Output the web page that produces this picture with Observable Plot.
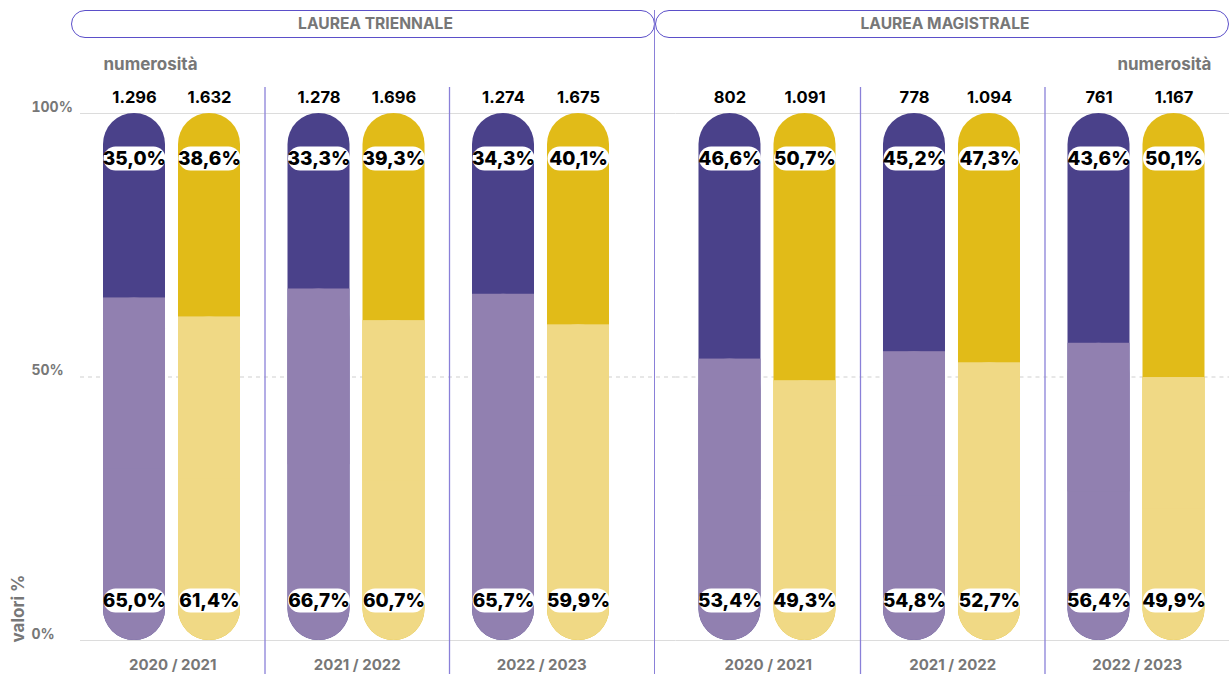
<!DOCTYPE html>
<html>
<head>
<meta charset="utf-8">
<script src="https://cdn.jsdelivr.net/npm/d3@7"></script>
<script src="https://cdn.jsdelivr.net/npm/@observablehq/plot@0.6"></script>
<style>
  body { margin: 0; background: #fff; font-family: Inter, "Noto Sans", sans-serif; }
  #wrap { position: relative; width: 1229px; height: 674px; overflow: hidden; }
  .pill { position: absolute; top: 10px; height: 28px; box-sizing: border-box;
          border: 1.5px solid #5b4fc9; border-radius: 14px; color: #777;
          font-weight: 700; font-size: 15.6px; line-height: 25px; text-align: center; }
  #mid { position: absolute; left: 654px; top: 10px; width: 1.3px; height: 664px; background: #8a80d8; }
  #chart { position: absolute; left: 0; top: 44px; }
</style>
</head>
<body>
<div id="wrap">
  <div class="pill" id="p1" style="left:71px;width:584px;padding-left:25px;"></div>
  <div class="pill" id="p2" style="left:655px;width:574px;padding-left:6px;"></div>
  <div id="chart"></div>
  <div id="mid"></div>
</div>
<script>
// ---- data ----
const classes = ["LAUREA TRIENNALE", "LAUREA MAGISTRALE"];
const years = ["2020 / 2021", "2021 / 2022", "2022 / 2023"];
const seriesNames = ["Gruppo A", "Gruppo B"];
const yTicks = [0, 50, 100];

// lower segment share (%) per year
const lowerA_T = [65.0, 66.7, 65.7];
const lowerB_T = [61.4, 60.7, 59.9];
const lowerA_M = [53.4, 54.8, 56.4];
const lowerB_M = [49.3, 52.7, 49.9];
// upper segment share (%) per year
const upperA_T = [35.0, 33.3, 34.3];
const upperB_T = [38.6, 39.3, 40.1];
const upperA_M = [46.6, 45.2, 43.6];
const upperB_M = [50.7, 47.3, 50.1];
// numerosità per year
const countA_T = [1296, 1278, 1274];
const countB_T = [1632, 1696, 1675];
const countA_M = [802, 778, 761];
const countB_M = [1091, 1094, 1167];

document.getElementById("p1").textContent = classes[0];
document.getElementById("p2").textContent = classes[1];

const rows = [];
const src = [
  [classes[0], seriesNames[0], lowerA_T, upperA_T, countA_T],
  [classes[0], seriesNames[1], lowerB_T, upperB_T, countB_T],
  [classes[1], seriesNames[0], lowerA_M, upperA_M, countA_M],
  [classes[1], seriesNames[1], lowerB_M, upperB_M, countB_M]
];
for (const [cls, s, lo, up, ct] of src) {
  years.forEach((year, i) => rows.push({cls, s, year, lower: lo[i], upper: up[i], count: ct[i]}));
}

const it = d3.formatLocale({decimal: ",", thousands: ".", grouping: [3], currency: ["€", ""]});
const fmtCount = it.format(",d");
const fmtPct = it.format(".1f");

// ---- layout ----
const W = 1229, mL = 80, mR = 0, mT = 69, mB = 34, H = 630;
const pIn = 0.0705;
const fxStep = (W - mL - mR) / (2 - pIn);
const fxBw = fxStep * (1 - pIn);
const gap = fxStep * pIn;
const bw = fxBw / years.length;
const barW = 62;
const offA = 23, offB = 98;
const ins = {
  [seriesNames[0]]: {insetLeft: offA, insetRight: bw - offA - barW},
  [seriesNames[1]]: {insetLeft: offB, insetRight: bw - offB - barW}
};
const dxOf = {
  [seriesNames[0]]: offA + barW / 2 - bw / 2,
  [seriesNames[1]]: offB + barW / 2 - bw / 2
};
const colors = {
  [seriesNames[0]]: {dark: "#4a418a", light: "#9180b0"},
  [seriesNames[1]]: {dark: "#e1bb18", light: "#f0d985"}
};

const pill = {
  draw(ctx) {
    const w = 31, h = 12;
    ctx.moveTo(-w + h, -h);
    ctx.lineTo(w - h, -h);
    ctx.arc(w - h, 0, h, -Math.PI / 2, Math.PI / 2);
    ctx.lineTo(-w + h, h);
    ctx.arc(-w + h, 0, h, Math.PI / 2, 3 * Math.PI / 2);
    ctx.closePath();
  }
};

const marks = [
  Plot.ruleY(yTicks.filter(d => d !== 50), {y: d => d, stroke: "#dcdcdc", strokeWidth: 1, insetRight: -gap}),
  Plot.ruleY(yTicks.filter(d => d === 50), {y: d => d, stroke: "#cfcfcf", strokeDasharray: "4,4", strokeWidth: 1, insetRight: -gap}),
  Plot.ruleX(rows.filter(d => d.s === seriesNames[0] && d.year !== years[0]), {
    fx: "cls", x: "year", dx: -bw / 2, stroke: "#8a80d8", strokeWidth: 1.3, insetTop: -26, insetBottom: -34
  })
];

const pctFont = {fontSize: 19, fontWeight: 800, fill: "#000", lineAnchor: "middle"};
for (const s of seriesNames) {
  const data = rows.filter(d => d.s === s);
  const c = colors[s];
  marks.push(
    Plot.barY(data, {fx: "cls", x: "year", y: d => d.lower + d.upper, fill: c.dark, rx: barW / 2, ...ins[s]}),
    Plot.barY(data, {fx: "cls", x: "year", y: "lower", fill: c.light, rx: barW / 2, ...ins[s]}),
    Plot.barY(data, {fx: "cls", x: "year", y1: d => d.lower / 2, y2: "lower", fill: c.light, ...ins[s]}),
    Plot.dot(data, {fx: "cls", x: "year", frameAnchor: "top", dx: dxOf[s], dy: 45, symbol: pill, r: 10, fill: "white", stroke: null}),
    Plot.dot(data, {fx: "cls", x: "year", frameAnchor: "bottom", dx: dxOf[s], dy: -40, symbol: pill, r: 10, fill: "white", stroke: null}),
    Plot.text(data, {fx: "cls", x: "year", frameAnchor: "top", dx: dxOf[s], dy: 45, text: d => fmtPct(d.upper) + "%", ...pctFont}),
    Plot.text(data, {fx: "cls", x: "year", frameAnchor: "bottom", dx: dxOf[s], dy: -40, text: d => fmtPct(d.lower) + "%", ...pctFont}),
    Plot.text(data, {fx: "cls", x: "year", frameAnchor: "top", dx: dxOf[s], dy: -16, text: d => fmtCount(d.count),
      fontSize: 16.5, fontWeight: 700, fill: "#000", lineAnchor: "middle"})
  );
}

marks.push(
  Plot.text(rows.filter(d => d.s === seriesNames[0]), {fx: "cls", x: "year", frameAnchor: "bottom", dy: 25,
    text: "year", fontSize: 15, fontWeight: 700, fill: "#777", lineAnchor: "middle"}),
  Plot.text(["numerosità"], {fx: () => classes[0], frameAnchor: "top-left", dx: 23, dy: -49, textAnchor: "start",
    text: d => d, fontSize: 17, fontWeight: 700, fill: "#777", lineAnchor: "middle"}),
  Plot.text(["numerosità"], {fx: () => classes[1], frameAnchor: "top-right", dx: -18, dy: -49, textAnchor: "end",
    text: d => d, fontSize: 17, fontWeight: 700, fill: "#777", lineAnchor: "middle"}),
  Plot.text(["valori %"], {fx: () => classes[0], frameAnchor: "bottom-left", dx: -62, dy: 2, rotate: -90, textAnchor: "start",
    text: d => d, fontSize: 17, fontWeight: 700, fill: "#777", lineAnchor: "middle"}),
  Plot.axisY({ticks: yTicks, tickFormat: d => d + "%", tickSize: 0, tickPadding: 0, textAnchor: "start",
    dx: -49, dy: -6, fontSize: 14, fontWeight: 700, fill: "#777", label: null})
);

const chart = Plot.plot({
  width: W, height: H,
  marginLeft: mL, marginRight: mR, marginTop: mT, marginBottom: mB,
  style: {fontFamily: "Inter, 'Noto Sans', sans-serif", background: "#fff", overflow: "visible"},
  fx: {domain: classes, paddingInner: pIn, paddingOuter: 0, round: false, axis: null, label: null},
  x: {domain: years, padding: 0, round: false, axis: null, label: null},
  y: {domain: [0, 100], label: null},
  marks
});
document.getElementById("chart").appendChild(chart);
</script>
</body>
</html>
